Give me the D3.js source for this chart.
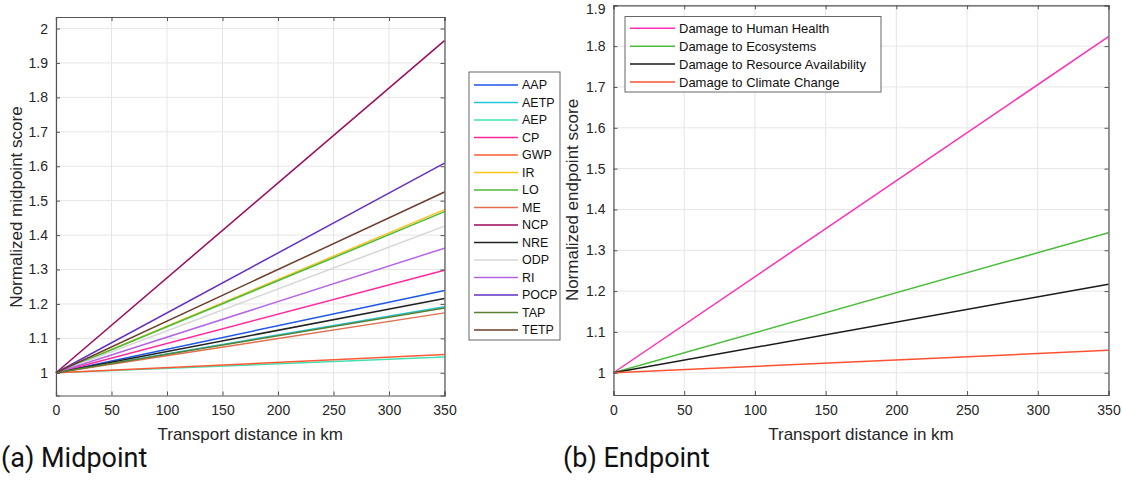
<!DOCTYPE html>
<html><head><meta charset="utf-8">
<script src="https://cdn.jsdelivr.net/npm/d3@7"></script>
<style>
body{margin:0;background:#fff;}
svg{display:block;font-family:"Liberation Sans",Arial,sans-serif;}
</style></head>
<body>
<svg id="c" width="1122" height="492"></svg>
<script>
const distances = [0, 350];
const xTicks = [0, 50, 100, 150, 200, 250, 300, 350];

const midCategories = ["AAP","AETP","AEP","CP","GWP","IR","LO","ME","NCP","NRE","ODP","RI","POCP","TAP","TETP"];
const midStart = [1,1,1,1,1,1,1,1,1,1,1,1,1,1,1];
const midEnd   = [1.239,1.192,1.046,1.298,1.053,1.474,1.468,1.174,1.965,1.216,1.426,1.362,1.609,1.188,1.525];
const midColors = ["#1f55e8","#22c6d8","#45e0b0","#ff2a9d","#ff5a36","#ffc21a","#4cbb3c","#e07050","#9a0a5e","#222222","#d6d6d6","#b466e6","#6232c2","#5a8034","#6b3e2c"];
const midYTicks = [1,1.1,1.2,1.3,1.4,1.5,1.6,1.7,1.8,1.9,2];

const endCategories = ["Damage to Human Health","Damage to Ecosystems","Damage to Resource Availability","Damage to Climate Change"];
const endStart = [1,1,1,1];
const endEnd   = [1.823,1.343,1.217,1.055];
const endColors = ["#ff2eb4","#4cbb3c","#1a1a1a","#ff5232"];
const endYTicks = [1,1.1,1.2,1.3,1.4,1.5,1.6,1.7,1.8,1.9];

const svg = d3.select("#c");

function panel(o){
  const x = d3.scaleLinear().domain([0,350]).range([o.left,o.right]);
  const y = d3.scaleLinear().domain(o.ydom).range([o.bottom,o.top]);
  const g = svg.append("g");
  // grid
  g.selectAll(".gx").data(xTicks).enter().append("line")
    .attr("x1",d=>x(d)).attr("x2",d=>x(d)).attr("y1",o.top).attr("y2",o.bottom)
    .attr("stroke","#e6e6e6").attr("stroke-width",1);
  g.selectAll(".gy").data(o.yticks).enter().append("line")
    .attr("x1",o.left).attr("x2",o.right).attr("y1",d=>y(d)).attr("y2",d=>y(d))
    .attr("stroke","#e6e6e6").attr("stroke-width",1);
  // lines
  const line = d3.line().x(d=>x(d[0])).y(d=>y(d[1]));
  o.cats.forEach((c,i)=>{
    const pts = distances.map((dx,j)=>[dx, j===0?o.start[i]:o.end[i]]);
    g.append("path").attr("d",line(pts)).attr("fill","none")
      .attr("stroke",o.colors[i]).attr("stroke-width",1.5);
  });
  // axes
  const ax = "#555";
  const bottomAxis = d3.axisBottom(x).tickValues(xTicks).tickSize(-4).tickPadding(10).tickFormat(d3.format("d"));
  const gb = g.append("g").attr("transform",`translate(0,${o.bottom})`).call(bottomAxis);
  const topAxis = d3.axisTop(x).tickValues(xTicks).tickSize(-4).tickFormat("");
  const gt = g.append("g").attr("transform",`translate(0,${o.top})`).call(topAxis);
  const leftAxis = d3.axisLeft(y).tickValues(o.yticks).tickSize(-4).tickPadding(8).tickFormat(d=>d3.format("")(+d.toFixed(1)));
  const gl = g.append("g").attr("transform",`translate(${o.left},0)`).call(leftAxis);
  const rightAxis = d3.axisRight(y).tickValues(o.yticks).tickSize(-4).tickFormat("");
  const gr = g.append("g").attr("transform",`translate(${o.right},0)`).call(rightAxis);
  [gb,gt,gl,gr].forEach(a=>{
    a.select(".domain").attr("stroke",ax).attr("stroke-width",1.2);
    a.selectAll(".tick line").attr("stroke",ax);
    a.selectAll("text").attr("font-size",14).attr("fill","#262626").attr("font-family","Liberation Sans, Arial, sans-serif");
  });
  gb.selectAll("text").attr("dy","0.71em");
  // keep a label at the very top inside the picture
  gl.selectAll(".tick text").attr("dy", d => (o.top + 0 > y(d) - 6 && y(d) < 8) ? "0.55em" : "0.32em");
  // titles
  g.append("text").attr("x",(o.left+o.right)/2).attr("y",440).attr("text-anchor","middle")
    .attr("font-size",17).attr("fill","#262626").text("Transport distance in km");
  g.append("text").attr("transform",`translate(${o.ylabX},${o.ylabY}) rotate(-90)`)
    .attr("text-anchor","middle").attr("font-size",17).attr("fill","#262626").text(o.ylab);
  // caption
  svg.append("text").attr("x",o.capX).attr("y",467).attr("font-family","Roboto, 'Noto Sans', sans-serif")
    .attr("font-size",27).attr("fill","#111").text(o.caption);
  // legend
  const L = o.legend;
  const lg = svg.append("g");
  lg.append("rect").attr("x",L.x).attr("y",L.y).attr("width",L.w).attr("height",L.h)
    .attr("fill","#fff").attr("stroke","#666").attr("stroke-width",1);
  o.cats.forEach((c,i)=>{
    const yy = L.y0 + i*L.dy;
    lg.append("line").attr("x1",L.lx1).attr("x2",L.lx2).attr("y1",yy).attr("y2",yy)
      .attr("stroke",o.colors[i]).attr("stroke-width",1.5);
    lg.append("text").attr("x",L.tx).attr("y",yy).attr("dy","0.35em")
      .attr("font-size",L.fs).attr("fill","#111").text(c);
  });
}

panel({left:56,right:444.5,top:17,bottom:395.5,ydom:[0.934,2.0335],yticks:midYTicks,
  cats:midCategories,start:midStart,end:midEnd,colors:midColors,
  ylab:"Normalized midpoint score",ylabX:22,ylabY:207,caption:"(a) Midpoint",capX:1,
  legend:{x:469,y:72,w:91,h:268,y0:85,dy:17.5,lx1:474,lx2:518,tx:522,fs:12.5}});

panel({left:613.5,right:1108.5,top:5.3,bottom:395,ydom:[0.9455,1.9],yticks:endYTicks,
  cats:endCategories,start:endStart,end:endEnd,colors:endColors,
  ylab:"Normalized endpoint score",ylabX:578,ylabY:200,caption:"(b) Endpoint",capX:563,
  legend:{x:625,y:16.5,w:256,h:75.5,y0:28.3,dy:17.9,lx1:630,lx2:675,tx:679,fs:13}});
</script>
</body></html>
